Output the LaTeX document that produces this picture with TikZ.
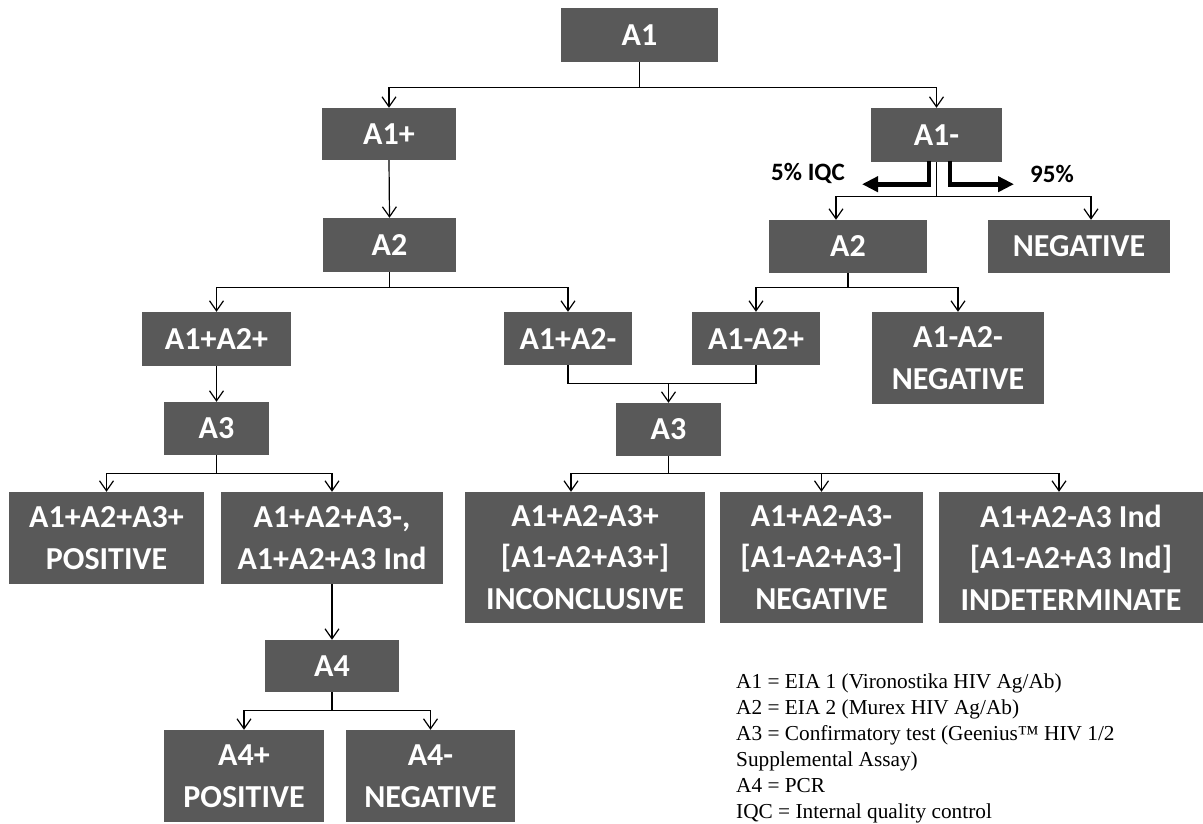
\documentclass[tikz,border=0pt]{standalone}
\usepackage{fontspec}
\usetikzlibrary{arrows.meta,calc}
\newfontfamily\boxfont{Carlito}
\newfontfamily\legfont{Liberation Serif}
\definecolor{boxgray}{HTML}{595959}
\begin{document}
\begin{tikzpicture}[x=1pt,y=-1pt,
  box/.style={fill=boxgray, text=white, font=\boxfont\bfseries\fontsize{32}{41.5}\selectfont, align=center, inner sep=0pt},
  conn/.style={line width=1.2pt, draw=black},
  arr/.style={conn, -{Straight Barb[length=10pt,width=14pt,line width=1.2pt]}},
  bigarr/.style={line width=4.8pt, miter limit=10, -{Triangle[length=16pt,width=15pt]}},
  lbl/.style={font=\boxfont\bfseries\fontsize{25}{29}\selectfont, inner sep=0pt},
  leg/.style={font=\legfont\fontsize{21.3}{26}\selectfont, inner sep=0pt, anchor=base west},
]
\useasboundingbox (0,0) rectangle (1203,823);

% boxes
\node[box, minimum width=157pt, minimum height=54pt] (A1) at (639.5,35) {A1};
\node[box, minimum width=134pt, minimum height=52pt] (A1p) at (389,134) {A1+};
\node[box, minimum width=131pt, minimum height=54pt] (A1m) at (936.5,135) {A1-};
\node[box, minimum width=133pt, minimum height=54pt] (A2L) at (389.5,245) {A2};
\node[box, minimum width=158pt, minimum height=53pt] (A2R) at (848,246.5) {A2};
\node[box, minimum width=182pt, minimum height=53pt] (NEG1) at (1079,246.5) {NEGATIVE};
\node[box, minimum width=149pt, minimum height=54pt] (A1pA2p) at (216.5,339) {A1+A2+};
\node[box, minimum width=128pt, minimum height=53pt] (A1pA2m) at (568,338.5) {A1+A2-};
\node[box, minimum width=128pt, minimum height=53pt] (A1mA2p) at (756,338.5) {A1-A2+};
\node[box, minimum width=172pt, minimum height=92pt] (A1mA2mN) at (958,358) {A1-A2-\\NEGATIVE};
\node[box, minimum width=105pt, minimum height=53pt] (A3L) at (216.5,428.5) {A3};
\node[box, minimum width=105pt, minimum height=53pt] (A3R) at (668.5,429.5) {A3};
\node[box, minimum width=195pt, minimum height=92pt] (B1) at (106.5,538) {A1+A2+A3+\\POSITIVE};
\node[box, minimum width=222pt, minimum height=92pt] (B2) at (332,538) {A1+A2+A3-,\\A1+A2+A3 Ind};
\node[box, minimum width=240pt, minimum height=131pt] (B3) at (585,557.5) {A1+A2-A3+\\{[}A1-A2+A3+{]}\\INCONCLUSIVE};
\node[box, minimum width=203pt, minimum height=131pt] (B4) at (821.5,557.5) {A1+A2-A3-\\{[}A1-A2+A3-{]}\\NEGATIVE};
\node[box, minimum width=264pt, minimum height=131pt] (B5) at (1071,557.5) {A1+A2-A3 Ind\\{[}A1-A2+A3 Ind{]}\\INDETERMINATE};
\node[box, minimum width=134pt, minimum height=52pt] (A4) at (332,666) {A4};
\node[box, minimum width=160pt, minimum height=92pt] (A4p) at (244,776) {A4+\\POSITIVE};
\node[box, minimum width=169pt, minimum height=92pt] (A4m) at (430.5,776) {A4-\\NEGATIVE};

% connectors
\draw[arr] (A1.south) -- ++(0,25) -| (A1p.north);
\draw[arr] (A1.south) -- ++(0,25) -| (A1m.north);
\draw[arr] (A1p.south) -- (A2L.north);
\draw[arr] (A2L.south) -- ++(0,15) -| (A1pA2p.north);
\draw[arr] (A2L.south) -- ++(0,15) -| (A1pA2m.north);
\draw[arr] (A1pA2p.south) -- (A3L.north);
\draw[arr] (A3L.south) -- ++(0,18) -| (B1.north);
\draw[arr] (A3L.south) -- ++(0,18) -| (B2.north);
\draw[arr] (B2.south) -- (A4.north);
\draw[arr] (A4.south) -- ++(0,18) -| (A4p.north);
\draw[arr] (A4.south) -- ++(0,18) -| (A4m.north);

\draw[arr] (A1m.south) -- ++(0,34) -| ([xshift=-12pt]A2R.north);
\draw[arr] (A1m.south) -- ++(0,34) -| ([xshift=12pt]NEG1.north);
\draw[arr] (A2R.south) -- ++(0,14) -| (A1mA2p.north);
\draw[arr] (A2R.south) -- ++(0,14) -| (A1mA2mN.north);

\draw[conn] (A1pA2m.south) -- ++(0,18) coordinate (m1) -| (A1mA2p.south);
\draw[arr] (m1 -| A3R.north) -- (A3R.north);
\draw[arr] (A3R.south) -- ++(0,17) -| ([xshift=-14pt]B3.north);
\draw[arr] (A3R.south) -- ++(0,17) -| (B4.north);
\draw[arr] (A3R.south) -- ++(0,17) -| ([xshift=-12pt]B5.north);

% thick split arrows
\draw[bigarr] ([xshift=-7.5pt,yshift=1.5pt]A1m.south) -- ++(0,23.5) -- ++(-67,0);
\draw[bigarr] ([xshift=13.5pt,yshift=1.5pt]A1m.south) -- ++(0,23.5) -- ++(64,0);
\node[lbl, anchor=base east] (iqc) at (845,180) {5\% IQC};
\node[lbl, anchor=base west] (p95) at (1030,182) {95\%};

% legend
\node[leg] (l1) at (736,688) {A1 = EIA 1 (Vironostika HIV Ag/Ab)};
\node[leg] (l2) at (736,714) {A2 = EIA 2 (Murex HIV Ag/Ab)};
\node[leg] (l3) at (736,740) {A3 = Confirmatory test (Geenius™ HIV 1/2};
\node[leg] (l4) at (736,766) {Supplemental Assay)};
\node[leg] (l5) at (736,792) {A4 = PCR};
\node[leg] (l6) at (736,818) {IQC = Internal quality control};
\end{tikzpicture}
\end{document}
